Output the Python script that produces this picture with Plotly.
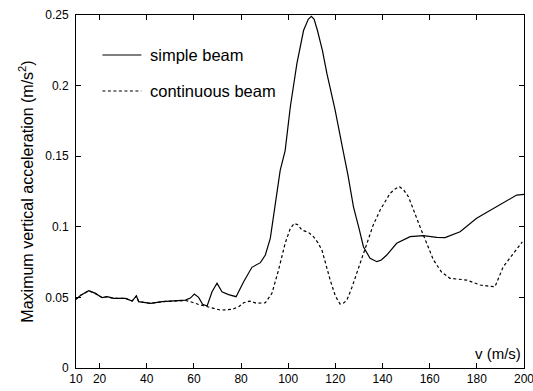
import plotly.graph_objects as go

# ---- data ----
v_simple = [10, 12, 15.4, 18, 21.1, 23.2, 26, 31, 33.8, 35.6,
            36.6, 41.6, 46.5, 51.4, 56.4, 58.5, 60.2, 62, 63.7, 65.6,
            67.7, 69.8, 71.9, 74.7, 77.9, 81.1, 84.6, 88.2, 90.3, 92.4,
            94.5, 96.6, 98.7, 100.9, 103.7, 106.5, 108.5, 109.8, 111, 112.4,
            114.5, 116.4, 119.9, 122, 123.5, 125.3, 127.7, 130, 131.9, 134.7,
            137.6, 139.5, 141.8, 146, 151.7, 157.3, 163, 166.5, 172.9, 179.9,
            187, 194, 196.9, 200]
a_simple = [0.0486, 0.0515, 0.0547, 0.053, 0.0498, 0.0505, 0.0493, 0.0493, 0.0474, 0.051,
            0.047, 0.0458, 0.047, 0.0474, 0.0481, 0.0495, 0.0524, 0.050, 0.0451, 0.0439,
            0.054, 0.060, 0.054, 0.052, 0.0505, 0.0611, 0.0713, 0.0746, 0.080, 0.0918,
            0.1166, 0.140, 0.154, 0.185, 0.2157, 0.239, 0.247, 0.249, 0.247, 0.239,
            0.225, 0.2086, 0.1827, 0.166, 0.152, 0.137, 0.114, 0.099, 0.0859, 0.0777,
            0.0753, 0.0765, 0.080, 0.0883, 0.093, 0.0937, 0.0925, 0.0923, 0.0965, 0.106,
            0.113, 0.120, 0.1225, 0.123]

v_cont = [10, 12, 15.4, 18, 21.1, 23.2, 26, 31, 33.8, 35.6,
          36.6, 41.6, 46.5, 51.4, 56.4, 58.5, 60.2, 62, 64.1, 66,
          68.4, 71.2, 76.2, 79, 81.1, 83.6, 86.7, 90.3, 93.1, 95.9,
          98.7, 100.9, 102.6, 104, 105.8, 108.6, 110.7, 112.5, 114.3, 116,
          117.8, 120, 122, 123.5, 124.9, 127, 129.1, 133.4, 136, 139,
          143.2, 145.5, 147.2, 149, 151, 155.9, 161.6, 165, 168.6, 175.7,
          181.4, 185, 187.7, 191.2, 195.5, 199.3]
a_cont = [0.0486, 0.0515, 0.0547, 0.053, 0.0498, 0.0505, 0.0493, 0.0493, 0.0474, 0.051,
          0.047, 0.0458, 0.047, 0.0474, 0.0478, 0.047, 0.0458, 0.045, 0.0441, 0.0432,
          0.0423, 0.041, 0.0415, 0.0434, 0.0462, 0.0474, 0.0458, 0.0462, 0.0529, 0.0694,
          0.0883, 0.0989, 0.1024, 0.1015, 0.0977, 0.096, 0.093, 0.089, 0.0835, 0.073,
          0.0623, 0.051, 0.0453, 0.046, 0.0481, 0.057, 0.067, 0.0883, 0.101, 0.1119,
          0.1237, 0.127, 0.1284, 0.126, 0.1213, 0.100, 0.0765, 0.068, 0.0635, 0.0623,
          0.0588, 0.058, 0.0576, 0.0717, 0.0812, 0.0894]

x_ticks = [10, 20, 40, 60, 80, 100, 120, 140, 160, 180, 200]
y_ticks = [0, 0.05, 0.1, 0.15, 0.2, 0.25]
y_ticktext = ["0", "0.05", "0.1", "0.15", "0.2", "0.25"]

series_names = ["simple beam", "continuous beam"]

FONT = "Liberation Sans, Arial, sans-serif"

fig = go.Figure()
fig.add_trace(go.Scatter(x=v_simple, y=a_simple, mode="lines", name=series_names[0],
                         line=dict(color="black", width=1.2), showlegend=False))
fig.add_trace(go.Scatter(x=v_cont, y=a_cont, mode="lines", name=series_names[1],
                         line=dict(color="black", width=1.2, dash="3px,2.5px"), showlegend=False))

# manual legend (inside top-left), in paper coordinates
legend_rows = [(0.8867, "solid"), (0.7847, "3px,2.5px")]
for (yp, dash), name in zip(legend_rows, series_names):
    fig.add_shape(type="line", xref="paper", yref="paper", x0=0.059, x1=0.146, y0=yp, y1=yp,
                  line=dict(color="black", width=1.2, dash=dash))
    fig.add_annotation(xref="paper", yref="paper", x=0.1617, y=yp, text=name, showarrow=False,
                       xanchor="left", yanchor="middle", font=dict(family=FONT, size=16.5, color="black"))

# x-axis label inside the plot
fig.add_annotation(xref="paper", yref="paper", x=0.997, y=0.04, text="v (m/s)", showarrow=False,
                   xanchor="right", yanchor="middle", font=dict(family=FONT, size=15, color="black"))

axis_common = dict(showline=True, linecolor="black", linewidth=1, mirror="ticks",
                   ticks="inside", ticklen=5, tickcolor="black", tickwidth=1,
                   showgrid=False, zeroline=False, automargin=False,
                   tickfont=dict(family=FONT, size=12, color="black"))

fig.update_xaxes(range=[10, 200], tickvals=x_ticks, ticklabeloverflow="allow", **axis_common)
fig.update_yaxes(range=[0, 0.25], tickvals=y_ticks, ticktext=y_ticktext,
                 ticklabelstandoff=4,
                 title=dict(text="Maximum vertical acceleration (m/s<sup>2</sup>)",
                            font=dict(family=FONT, size=16, color="black"), standoff=7),
                 **axis_common)

fig.update_layout(width=533, height=391, margin=dict(l=76, r=9, t=15, b=23, autoexpand=False),
                  paper_bgcolor="white", plot_bgcolor="white", showlegend=False,
                  font=dict(family=FONT, color="black"))

fig.write_html("out.html")
